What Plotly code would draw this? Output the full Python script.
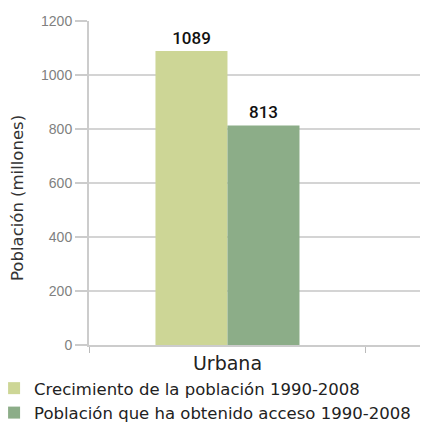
import plotly.graph_objects as go

categories = ["Urbana"]
all_categories = ["Urbana", " "]
series_names = ["Crecimiento de la población 1990-2008", "Población que ha obtenido acceso 1990-2008"]
growth = [1089]
access = [813]
colors = ["#cdd696", "#8cad88"]
y_ticks = [0, 200, 400, 600, 800, 1000, 1200]
y_title = "Población (millones)"

fig = go.Figure()
for i, (name, vals, col) in enumerate(zip(series_names, [growth, access], colors)):
    fig.add_trace(go.Bar(
        x=categories, y=vals, name=name, marker=dict(color=col, line=dict(width=0)),
        text=[str(v) for v in vals], textposition="outside", cliponaxis=False,
        textfont=dict(family="Roboto", size=17, color="#111111", weight=500),
        legendgroup=f"g{i}",
    ))

fig.add_annotation(
    text=y_title, xref="paper", yref="paper", x=-0.2124, y=0.4537,
    xanchor="center", yanchor="middle", textangle=-90, showarrow=False,
    font=dict(family="DejaVu Sans", size=16.5, color="#333333"),
)

fig.update_layout(
    width=420, height=420,
    margin=dict(l=81, r=0, t=13, b=83, autoexpand=False),
    plot_bgcolor="white", paper_bgcolor="white",
    barmode="group", bargap=0.48, bargroupgap=0,
    showlegend=True,
    legend=dict(
        orientation="v",
        x=-0.28, y=-0.08, xanchor="left", yanchor="top",
        font=dict(family="DejaVu Sans", size=16.5, color="#222222"),
        itemwidth=30, tracegroupgap=0, bgcolor="rgba(0,0,0,0)",
    ),
    xaxis=dict(
        type="category", categoryorder="array", categoryarray=all_categories,
        range=[-0.5, 0.724], tickson="boundaries", ticks="outside", ticklen=6,
        tickcolor="#bbbbbb", showline=True, linecolor="#cccccc", linewidth=1.5,
        tickfont=dict(family="DejaVu Sans", size=19, color="#222222"),
        showgrid=False, automargin=False, tickangle=0,
    ),
    yaxis=dict(
        range=[0, 1200], tickvals=y_ticks, ticks="outside", ticklen=12,
        tickcolor="#cccccc", tickwidth=1.5, gridcolor="#d4d4d4", gridwidth=1.5,
        showline=True, linecolor="#cccccc", linewidth=2,
        tickfont=dict(family="Liberation Sans", size=14, color="#808080"),
        zeroline=False, automargin=False,
    ),
)

fig.write_html("out.html")
